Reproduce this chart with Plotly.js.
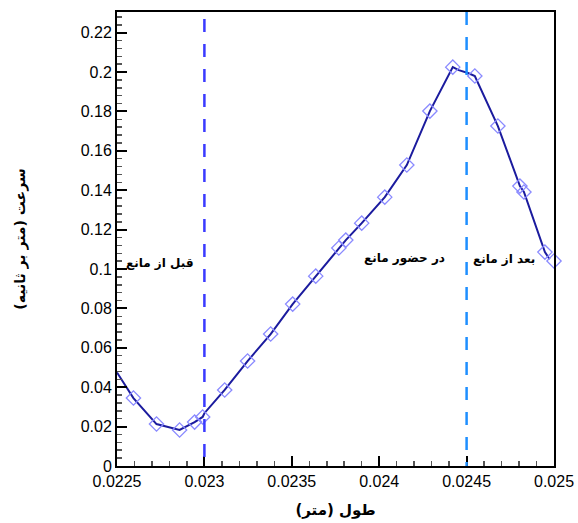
<!DOCTYPE html>
<html>
<head>
<meta charset="utf-8">
<script src="https://cdn.plot.ly/plotly-3.0.1.min.js"></script>
<style>
  html, body { margin: 0; padding: 0; background: #fff; }
  #chart { width: 578px; height: 523px; }
</style>
</head>
<body>
<div id="chart"></div>
<script>
// Velocity profile along the channel (m, m/s)
const lineX = [0.02250, 0.022594, 0.022726, 0.022858, 0.022944, 0.022990, 0.023000, 0.023116, 0.023247,
               0.023379, 0.023505, 0.023637, 0.023769, 0.023809, 0.023900, 0.024032, 0.024158,
               0.024290, 0.024421, 0.024455, 0.024508, 0.024547, 0.024679, 0.024805, 0.024828,
               0.024948, 0.024975];
const lineY = [0.0475, 0.0345, 0.0213, 0.0183, 0.0223, 0.0249, 0.0268, 0.0386, 0.0533,
               0.0670, 0.0822, 0.0964, 0.1107, 0.1147, 0.1233, 0.1365, 0.1528,
               0.1802, 0.2025, 0.2010, 0.1995, 0.1980, 0.1726, 0.1421, 0.1391,
               0.1086, 0.1050];

// Sampled points shown with markers
const markX = [0.022594, 0.022726, 0.022858, 0.022944, 0.022990, 0.023116, 0.023247, 0.023379,
               0.023505, 0.023637, 0.023769, 0.023809, 0.023900, 0.024032, 0.024158, 0.024290,
               0.024421, 0.024547, 0.024679, 0.024805, 0.024828, 0.024948, 0.025000];
const markY = [0.0345, 0.0213, 0.0183, 0.0223, 0.0249, 0.0386, 0.0533, 0.0670,
               0.0822, 0.0964, 0.1107, 0.1147, 0.1233, 0.1365, 0.1528, 0.1802,
               0.2025, 0.1980, 0.1726, 0.1421, 0.1391, 0.1086, 0.1041];

// Region boundaries and labels
const obstacleStart = 0.0230;
const obstacleEnd = 0.0245;
const regionLabels = ['قبل از مانع', 'در حضور مانع', 'بعد از مانع'];
const regionLabelX = [0.022745, 0.024147, 0.024712];
const regionLabelY = [0.1030, 0.1056, 0.1050];

const xTicks = [0.0225, 0.023, 0.0235, 0.024, 0.0245, 0.025];
const xTickText = ['0.0225', '0.023', '0.0235', '0.024', '0.0245', '0.025'];
const yTicks = [0, 0.02, 0.04, 0.06, 0.08, 0.1, 0.12, 0.14, 0.16, 0.18, 0.2, 0.22];
const yTickText = ['0', '0.02', '0.04', '0.06', '0.08', '0.1', '0.12', '0.14', '0.16', '0.18', '0.2', '0.22'];

const fontSans = 'Liberation Sans, Arial, DejaVu Sans, sans-serif';
const fontFa = 'DejaVu Sans, Noto Sans, sans-serif';

const traces = [
  {
    x: lineX, y: lineY, type: 'scatter', mode: 'lines',
    line: { color: '#1b1b9e', width: 2 },
    hoverinfo: 'skip', showlegend: false
  },
  {
    x: markX, y: markY, type: 'scatter', mode: 'markers',
    marker: { symbol: 'diamond-open', size: 11, color: '#8a8aff', line: { color: '#8a8aff', width: 1.3 } },
    cliponaxis: false, showlegend: false
  }
];

const layout = {
  width: 578, height: 523,
  margin: { l: 117, r: 24, t: 12, b: 57 },
  paper_bgcolor: '#fff', plot_bgcolor: '#fff',
  showlegend: false,
  font: { family: fontSans, color: '#000', size: 16 },
  xaxis: {
    range: [0.0225, 0.025],
    tickmode: 'array', tickvals: xTicks, ticktext: xTickText,
    ticks: 'inside', ticklen: 10, tickwidth: 2, tickcolor: '#000',
    minor: { dtick: 0.0001, ticks: 'inside', ticklen: 5, tickwidth: 1.5, tickcolor: '#555' },
    showgrid: false, zeroline: false,
    showline: true, linecolor: '#000', linewidth: 2, mirror: true,
    tickfont: { family: fontSans, size: 16, color: '#000' },
    title: { text: 'طول (متر)', font: { family: fontFa, size: 15, color: '#000', weight: 'bold' }, standoff: 15 }
  },
  yaxis: {
    range: [0, 0.2305],
    tickmode: 'array', tickvals: yTicks, ticktext: yTickText,
    ticks: 'inside', ticklen: 10, tickwidth: 2, tickcolor: '#000',
    minor: { dtick: 0.004, ticks: 'inside', ticklen: 5, tickwidth: 1.5, tickcolor: '#555' },
    showgrid: false, zeroline: false,
    showline: true, linecolor: '#000', linewidth: 2, mirror: true,
    tickfont: { family: fontSans, size: 16, color: '#000' },
    title: { text: 'سرعت (متر بر ثانیه)', font: { family: fontFa, size: 14, color: '#000', weight: 'bold' }, standoff: 52 }
  },
  shapes: [
    {
      type: 'line', xref: 'x', yref: 'y', layer: 'above',
      x0: obstacleStart, x1: obstacleStart, y0: 0.2270, y1: 0,
      line: { color: '#3a3aff', width: 2.5, dash: '13px,12px' }
    },
    {
      type: 'line', xref: 'x', yref: 'y', layer: 'above',
      x0: obstacleEnd, x1: obstacleEnd, y0: 0.2305, y1: 0,
      line: { color: '#1e8fff', width: 2.5, dash: '13px,12px' }
    }
  ],
  annotations: regionLabels.map((t, i) => ({
    text: '<b>' + t + '</b>', x: regionLabelX[i], y: regionLabelY[i],
    xref: 'x', yref: 'y', showarrow: false,
    font: { family: fontFa, size: 12, color: '#000' }
  }))
};

Plotly.newPlot('chart', traces, layout, { displayModeBar: false, staticPlot: true });
</script>
</body>
</html>
